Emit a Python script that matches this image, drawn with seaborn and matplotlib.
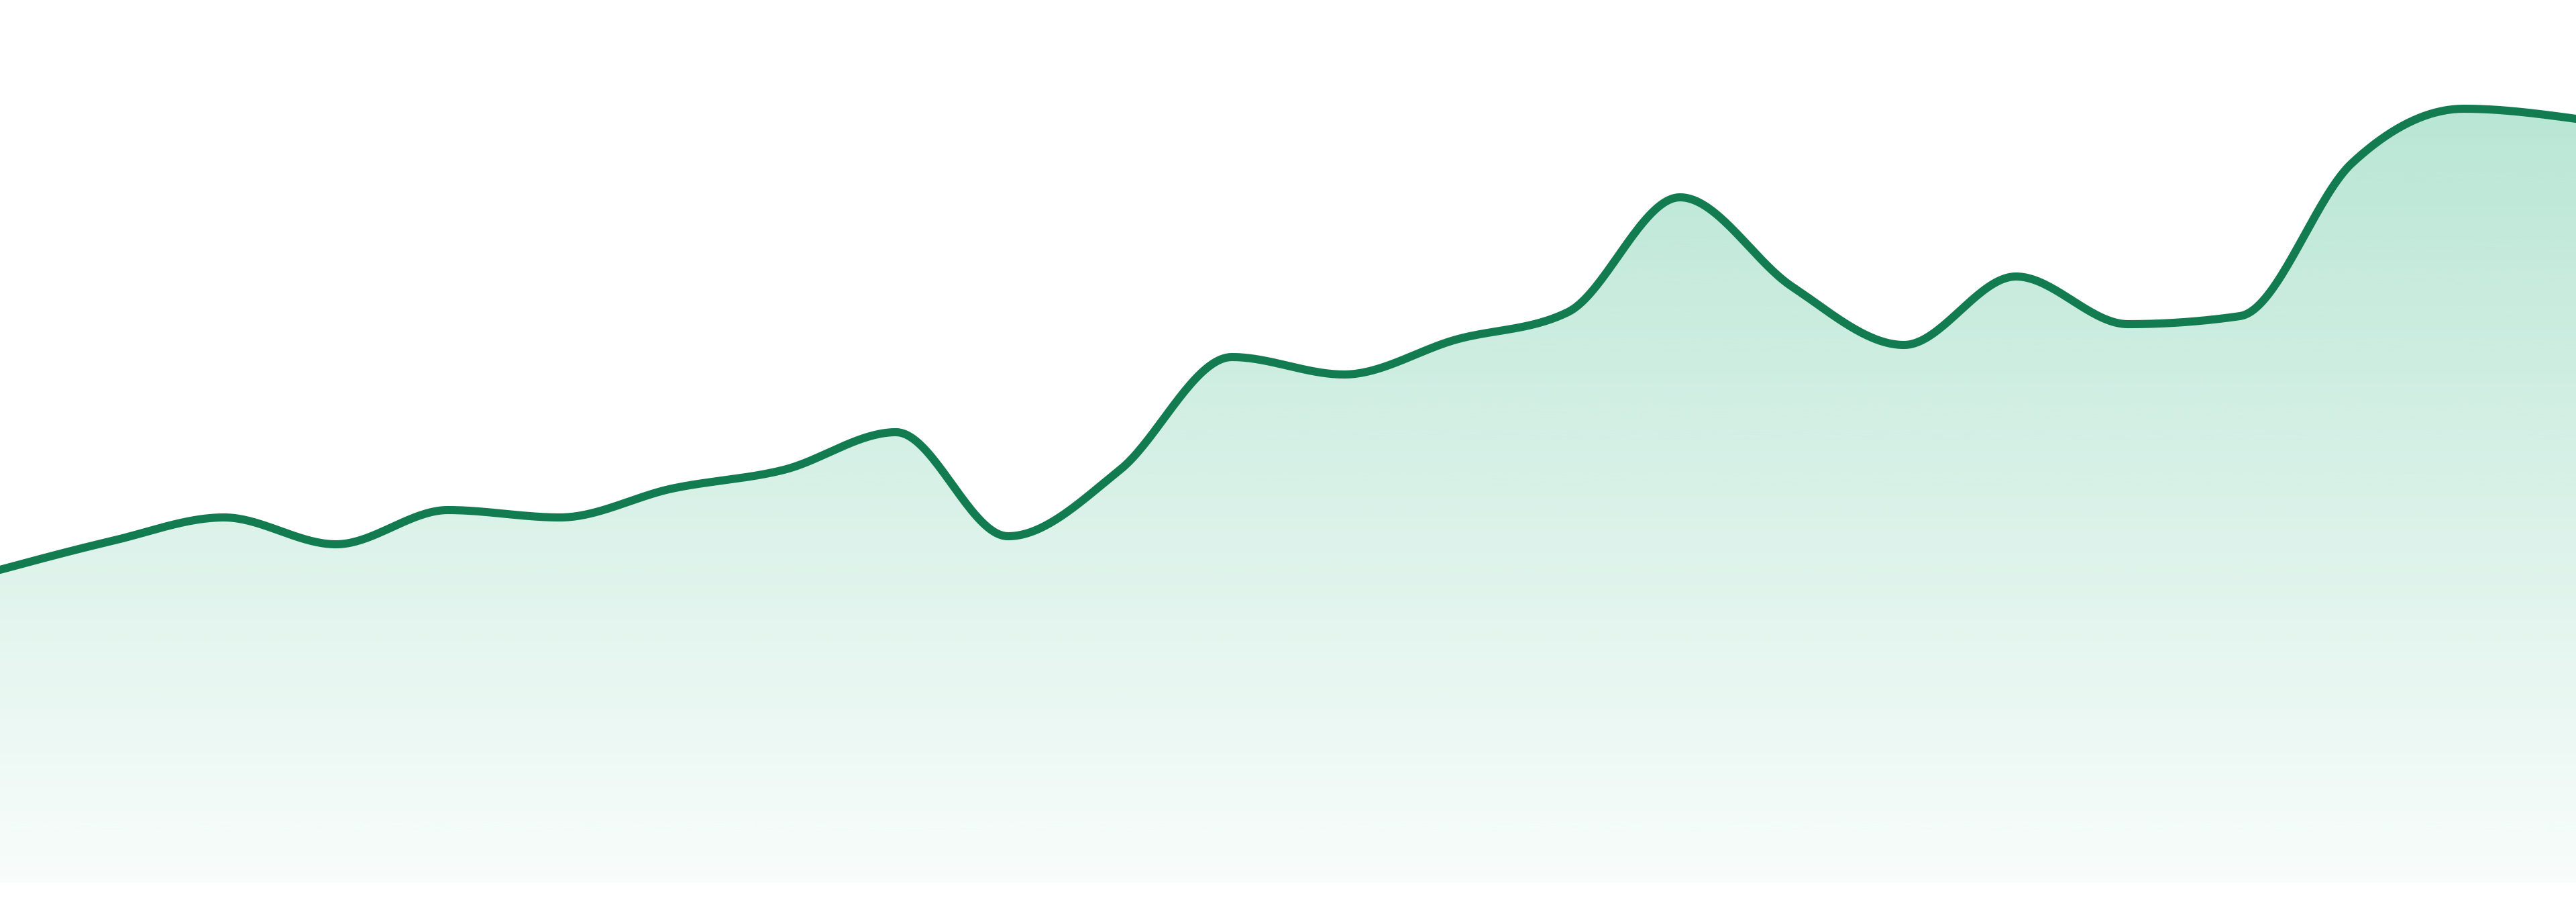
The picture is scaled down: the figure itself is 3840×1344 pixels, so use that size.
import numpy as np
import matplotlib
matplotlib.use("Agg")
import matplotlib.pyplot as plt
import seaborn as sns

# one reading per step, arbitrary units (0 = bottom of the shaded area)
steps = list(range(24))
values = [46.6, 50.9, 54.4, 50.4, 55.5, 54.4, 58.7, 61.5, 67.1, 51.6, 61.5, 78.3,
          75.7, 80.9, 85.0, 102.1, 88.8, 80.1, 90.3, 83.2, 84.4, 107.2, 115.3, 113.8]

line_color = "#127b50"
fill_rgb = (22 / 255, 172 / 255, 115 / 255)


def monotone_x(x, y, per_seg=40):
    # smooth path through the points, same rule as d3.curveMonotoneX
    x = np.asarray(x, float)
    y = np.asarray(y, float)
    h = np.diff(x)
    s = np.diff(y) / h
    t = np.zeros_like(y)
    for i in range(1, len(y) - 1):
        p = (s[i - 1] * h[i] + s[i] * h[i - 1]) / (h[i - 1] + h[i])
        t[i] = (np.sign(s[i - 1]) + np.sign(s[i])) * min(abs(s[i - 1]), abs(s[i]), 0.5 * abs(p))
    t[0] = (3 * s[0] - t[1]) / 2
    t[-1] = (3 * s[-1] - t[-2]) / 2
    xs, ys = [], []
    for i in range(len(x) - 1):
        u = np.linspace(0, 1, per_seg, endpoint=(i == len(x) - 2))
        h00 = 2 * u**3 - 3 * u**2 + 1
        h10 = u**3 - 2 * u**2 + u
        h01 = -2 * u**3 + 3 * u**2
        h11 = u**3 - u**2
        xs.append(x[i] + u * h[i])
        ys.append(h00 * y[i] + h10 * h[i] * t[i] + h01 * y[i + 1] + h11 * h[i] * t[i + 1])
    return np.concatenate(xs), np.concatenate(ys)


sns.set_style("white")
fig = plt.figure(figsize=(38.4, 13.44), dpi=100)
ax = fig.add_axes([0, 0, 1, 1])

cx, cy = monotone_x(steps, values)

# gradient fill under the curve
area = ax.fill_between(cx, cy, 0, facecolor="none", edgecolor="none")
top = max(values)
alpha = np.linspace(0.03, 0.30, 256)
grad = np.zeros((256, 1, 4))
grad[:, 0, 0] = fill_rgb[0]
grad[:, 0, 1] = fill_rgb[1]
grad[:, 0, 2] = fill_rgb[2]
grad[:, 0, 3] = alpha
img = ax.imshow(grad, extent=(steps[0], steps[-1], 0, top), origin="lower",
                aspect="auto", interpolation="bicubic", zorder=1)
img.set_clip_path(area.get_paths()[0], transform=ax.transData)

sns.lineplot(x=cx, y=cy, ax=ax, color=line_color, linewidth=8.7, sort=False,
             estimator=None, zorder=3)

ax.set_xlim(steps[0], steps[-1])
ax.set_ylim(-2.9, 131.5)
ax.axis("off")

fig.savefig("out.png", dpi=100, facecolor="white")
plt.close("all")
